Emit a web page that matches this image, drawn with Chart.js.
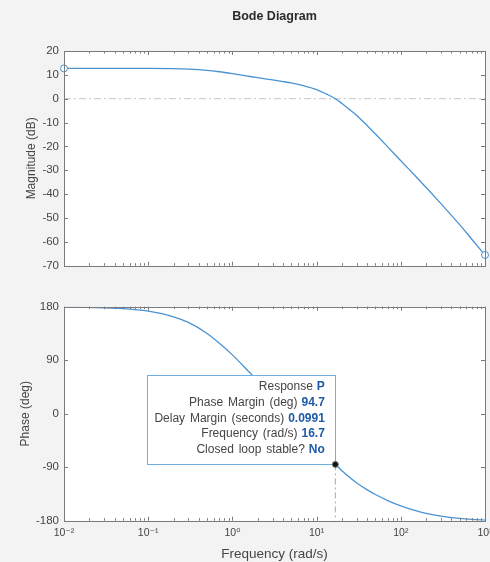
<!DOCTYPE html>
<html>
<head>
<meta charset="utf-8">
<title>Bode Diagram</title>
<script src="https://cdn.jsdelivr.net/npm/chart.js@4.4.1/dist/chart.umd.min.js"></script>
<style>
  html, body { margin: 0; padding: 0; background: #f3f3f3; }
  canvas { display: block; }
</style>
</head>
<body>
<canvas id="magChart" width="490" height="280"></canvas>
<canvas id="phaseChart" width="490" height="282"></canvas>
<script>
// values (rad/s, dB, deg)
const frequency = [0.01, 0.02, 0.05, 0.1, 0.2, 0.3, 0.5, 0.7, 1, 1.5, 2, 3, 4, 5, 7, 10, 13, 16.7,
  20, 25, 30, 40, 50, 70, 100, 150, 200, 300, 500, 700, 1000];
const magnitudeDb = [12.7, 12.7, 12.7, 12.7, 12.6, 12.4, 11.9, 11.3, 10.5, 9.5, 8.8, 7.9, 7.2, 6.6, 5.45, 3.85, 2.0, 0,
  -2.0, -4.7, -7.0, -11.3, -14.8, -20.2, -26.0, -32.5, -37.2, -44.0, -52.8, -59.0, -65.5];
const phaseDeg = [179.4, 178.8, 176.8, 172.5, 163, 153.5, 135, 118.5, 99, 73.5, 55, 28.6, 9.0, -6.5, -29.9, -53.9, -70.6, -85.3,
  -95.9, -107.9, -116.6, -128.1, -135.9, -146.1, -155.1, -163.2, -167.7, -172.4, -176.2, -177.8, -178.9];

const decadeTicks = [0.01, 0.1, 1, 10, 100, 1000];
const decadeLabels = ["10⁻²", "10⁻¹", "10⁰", "10¹", "10²", "10³"];

const marginFrequency = 16.7;
const marginPhase = -85.3;
const tipLabels = ["Response", "Phase Margin (deg)", "Delay Margin (seconds)", "Frequency (rad/s)", "Closed loop stable?"];
const tipValues = ["P", "94.7", "0.0991", "16.7", "No"];

const FONT = '"Liberation Sans", Arial, "DejaVu Sans", sans-serif';
const CURVE = "#4a93d3";
const AXIS_GRAY = "#7a7a7a";
const TEXT = "#454545";

// white plot area, box outline and inward MATLAB-style ticks
const matlabAxes = {
  id: "matlabAxes",
  beforeDraw(chart) {
    const { ctx, chartArea: a } = chart;
    ctx.save();
    ctx.fillStyle = "#ffffff";
    ctx.fillRect(a.left, a.top, a.right - a.left, a.bottom - a.top);
    ctx.restore();
  },
  afterDraw(chart) {
    const { ctx, chartArea: a, scales: { x, y } } = chart;
    const tick = (x0, y0, x1, y1) => { ctx.moveTo(x0, y0); ctx.lineTo(x1, y1); };
    ctx.save();
    ctx.strokeStyle = AXIS_GRAY;
    ctx.lineWidth = 1;
    ctx.beginPath();
    y.ticks.forEach((t) => {
      const py = Math.round(y.getPixelForValue(t.value)) + 0.5;
      tick(a.left, py, a.left + 4, py);
      tick(a.right, py, a.right - 4, py);
    });
    decadeTicks.forEach((d, i) => {
      const px = Math.round(x.getPixelForValue(d)) + 0.5;
      tick(px, a.top, px, a.top + 4);
      tick(px, a.bottom, px, a.bottom - 4);
      if (i === decadeTicks.length - 1) return;
      for (let k = 2; k < 10; k++) {
        const mx = Math.round(x.getPixelForValue(d * k)) + 0.5;
        tick(mx, a.top, mx, a.top + 2.5);
        tick(mx, a.bottom, mx, a.bottom - 2.5);
      }
    });
    ctx.stroke();
    ctx.strokeRect(Math.round(a.left) + 0.5, Math.round(a.top) + 0.5,
      Math.round(a.right - a.left), Math.round(a.bottom - a.top));
    ctx.restore();
  },
};

// data tip box, drawn just before the marker so it hides the curve behind it
const dataTip = {
  id: "dataTip",
  beforeDatasetDraw(chart, args) {
    if (args.index !== 0) return;
    const { ctx, scales: { x, y } } = chart;
    const px = x.getPixelForValue(marginFrequency);
    const py = y.getPixelForValue(marginPhase);
    const w = 188, h = 89;
    const left = Math.round(px - w) + 0.5, top = Math.round(py - h) + 0.5;
    ctx.save();
    ctx.fillStyle = "#ffffff";
    ctx.fillRect(left, top, w, h);
    ctx.strokeStyle = "#6cb0e6";
    ctx.lineWidth = 1;
    ctx.strokeRect(left, top, w, h);
    ctx.textAlign = "right";
    ctx.textBaseline = "middle";
    if ("wordSpacing" in ctx) ctx.wordSpacing = "1.5px";
    const right = px - 10.5;
    tipLabels.forEach((label, i) => {
      const ly = py - 77.3 + i * 15.6;
      ctx.font = "bold 12px " + FONT;
      ctx.fillStyle = "#1e5aa8";
      ctx.fillText(tipValues[i], right, ly);
      const vw = ctx.measureText(tipValues[i]).width;
      ctx.font = "12px " + FONT;
      ctx.fillStyle = TEXT;
      ctx.fillText(label, right - vw - 4, ly);
    });
    ctx.restore();
  },
};

const tickFont = { family: FONT, size: 11.5 };
const hideGrid = { display: false, drawTicks: false };

new Chart(document.getElementById("magChart"), {
  type: "line",
  data: {
    datasets: [
      {
        data: frequency.map((f, i) => ({ x: f, y: magnitudeDb[i] })),
        borderColor: CURVE,
        borderWidth: 1.3,
        cubicInterpolationMode: "monotone",
        pointRadius: (c) => (c.dataIndex === 0 || c.dataIndex === frequency.length - 1 ? 3.5 : 0),
        pointBackgroundColor: "#ffffff",
        pointBorderColor: CURVE,
        pointBorderWidth: 1,
        clip: 8,
      },
      {
        data: [{ x: frequency[0], y: 0 }, { x: frequency[frequency.length - 1], y: 0 }],
        borderColor: "#c4c4c4",
        borderWidth: 1,
        borderDash: [7, 3, 2, 3],
        pointRadius: 0,
      },
    ],
  },
  options: {
    responsive: false,
    animation: false,
    events: [],
    layout: { padding: { top: 9, right: 3, bottom: 14.3, left: 0 } },
    plugins: {
      legend: { display: false },
      tooltip: { enabled: false },
      title: {
        display: true,
        text: "Bode Diagram",
        fullSize: false,
        color: "#2b2b2b",
        font: { family: FONT, size: 12.5, weight: "bold" },
        padding: { top: 0, bottom: 27 },
      },
    },
    scales: {
      x: { type: "logarithmic", display: false, min: 0.01, max: 1000 },
      y: {
        min: -70,
        max: 20,
        ticks: { stepSize: 10, color: TEXT, font: tickFont, padding: 5 },
        grid: hideGrid,
        border: { display: false },
        title: {
          display: true,
          text: "Magnitude (dB)",
          color: TEXT,
          font: { family: FONT, size: 12 },
          padding: { top: 24.3, bottom: 0 },
        },
        afterFit(s) { s.width = 64; },
      },
    },
  },
  plugins: [matlabAxes],
});

new Chart(document.getElementById("phaseChart"), {
  type: "line",
  data: {
    datasets: [
      {
        data: [{ x: marginFrequency, y: marginPhase }],
        showLine: false,
        pointRadius: 3,
        pointBackgroundColor: "#111111",
        pointBorderColor: "#6d806d",
        pointBorderWidth: 1,
        clip: 6,
      },
      {
        data: frequency.map((f, i) => ({ x: f, y: phaseDeg[i] })),
        borderColor: CURVE,
        borderWidth: 1.3,
        cubicInterpolationMode: "monotone",
        pointRadius: 0,
      },
      {
        data: [{ x: marginFrequency, y: marginPhase }, { x: marginFrequency, y: -180 }],
        borderColor: "#a8a8a8",
        borderWidth: 1,
        borderDash: [6, 3, 2, 3],
        pointRadius: 0,
      },
    ],
  },
  options: {
    responsive: false,
    animation: false,
    events: [],
    layout: { padding: { top: 26.7, right: 3, bottom: 0, left: 0 } },
    plugins: { legend: { display: false }, tooltip: { enabled: false } },
    scales: {
      x: {
        type: "logarithmic",
        min: 0.01,
        max: 1000,
        afterBuildTicks(s) { s.ticks = decadeTicks.map((v) => ({ value: v })); },
        ticks: {
          autoSkip: false,
          maxRotation: 0,
          color: TEXT,
          font: { family: FONT, size: 10.5 },
          padding: 6,
          callback: (v) => decadeLabels[decadeTicks.indexOf(v)],
        },
        grid: hideGrid,
        border: { display: false },
        title: {
          display: true,
          text: "Frequency (rad/s)",
          color: TEXT,
          font: { family: FONT, size: 13.5, lineHeight: 1.1 },
          padding: { top: 0, bottom: 0 },
        },
        afterFit(s) { s.height = 41.3; s.paddingLeft = 0; s.paddingRight = 0; },
      },
      y: {
        min: -180,
        max: 180,
        ticks: { stepSize: 90, color: TEXT, font: tickFont, padding: 5 },
        grid: hideGrid,
        border: { display: false },
        title: {
          display: true,
          text: "Phase (deg)",
          color: TEXT,
          font: { family: FONT, size: 12 },
          padding: { top: 18.8, bottom: 0 },
        },
        afterFit(s) { s.width = 64; },
      },
    },
  },
  plugins: [matlabAxes, dataTip],
});
</script>
</body>
</html>
